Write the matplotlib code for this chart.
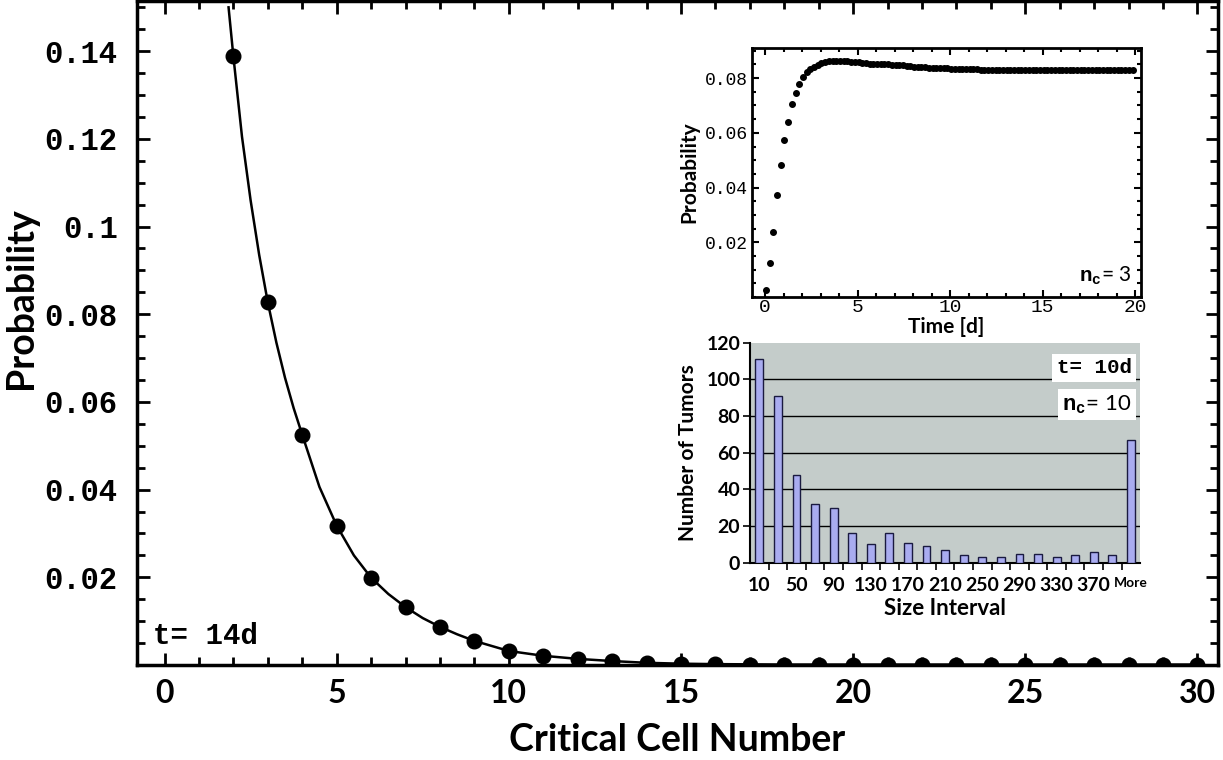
import matplotlib
matplotlib.use('Agg')
import matplotlib.pyplot as plt
import numpy as np
from matplotlib.ticker import MultipleLocator, FixedLocator

MONO = 'Liberation Mono'
SANS = 'Lato'

plt.rcParams.update({
    'font.family': SANS,
    'mathtext.fontset': 'custom',
    'mathtext.tt': 'Liberation Mono:bold',
    'mathtext.rm': 'Lato:bold',
})

# main plot: probability vs critical cell number (t = 14 d)
cell_number = list(range(2, 31))
probability = [0.1388, 0.0827, 0.0525, 0.0318, 0.0199, 0.0132, 0.0087, 0.0055,
               0.0032, 0.0021, 0.0014, 0.0009, 0.0005, 0.0003, 0.0002, 0.0001,
               0.0001, 0.0001, 0.0001, 0.0001, 0.0001, 0.0001, 0.0001, 0.0001,
               0.0001, 0.0001, 0.0001, 0.0001, 0.0001]
# smooth curve drawn through the dots
curve_x = [1.86, 2, 2.25, 2.5, 2.75, 3, 3.25, 3.5, 3.75, 4, 4.5, 5, 5.5, 6,
           6.5, 7, 7.5, 8, 8.5, 9, 10, 11, 12, 13, 14, 15, 16, 18, 20, 25, 30]
curve_y = [0.150, 0.1388, 0.1205, 0.1060, 0.0935, 0.0827, 0.0735, 0.0655,
           0.0586, 0.0525, 0.0406, 0.0318, 0.0250, 0.0199, 0.0162, 0.0132,
           0.0107, 0.0087, 0.0070, 0.0055, 0.0032, 0.0021, 0.0014, 0.0009,
           0.0005, 0.0003, 0.0002, 0.0001, 0.0001, 0.0001, 0.0001]

# inset 1: probability vs time (n_c = 3)
time_days = np.arange(0.05, 20.0, 0.2)
prob_time = [
    0.0027, 0.0123, 0.0239, 0.0372, 0.0484, 0.0575, 0.0641, 0.0704, 0.0745,
    0.0780, 0.0804, 0.0822, 0.0832, 0.0840, 0.0848, 0.0855, 0.0860, 0.0863,
    0.0864, 0.0864, 0.0863, 0.0862, 0.0861, 0.0860, 0.0858, 0.0857, 0.0855,
    0.0854, 0.0852, 0.0851, 0.0850, 0.0850, 0.0851, 0.0850, 0.0849, 0.0848,
    0.0847, 0.0846, 0.0845, 0.0843, 0.0842, 0.0841, 0.0840, 0.0839, 0.0838,
    0.0837, 0.0836, 0.0836, 0.0835, 0.0835, 0.0834, 0.0834, 0.0833, 0.0833,
    0.0833, 0.0832, 0.0832, 0.0832, 0.0831, 0.0831, 0.0831, 0.0830, 0.0830,
    0.0831, 0.0830, 0.0830, 0.0830, 0.0831, 0.0830, 0.0830, 0.0830, 0.0830,
    0.0831, 0.0830, 0.0830, 0.0830, 0.0830, 0.0830, 0.0831, 0.0830, 0.0830,
    0.0830, 0.0830, 0.0830, 0.0830, 0.0831, 0.0830, 0.0830, 0.0830, 0.0830,
    0.0830, 0.0830, 0.0830, 0.0831, 0.0830, 0.0830, 0.0830, 0.0830, 0.0830,
    0.0830,
]

# inset 2: tumour size histogram (t = 10 d, n_c = 10)
size_labels = [str(v) for v in range(10, 400, 20)] + ['More']
tumor_counts = [111, 91, 48, 32, 30, 16, 10, 16, 11, 9, 7, 4, 3, 3, 5, 5, 3,
                4, 6, 4, 67]

fig = plt.figure(figsize=(12.23, 7.6), dpi=100)

# ---- main axes
ax = fig.add_axes([0.112, 0.125, 0.884, 0.874])
ax.plot(curve_x, curve_y, color='black', lw=1.8, zorder=2)
ax.plot(cell_number, probability, 'o', color='black', ms=10.5, zorder=3)
ax.set_xlim(-0.8, 30.6)
ax.set_ylim(0, 0.1515)
ax.xaxis.set_major_locator(MultipleLocator(5))
ax.xaxis.set_minor_locator(MultipleLocator(1))
ax.yaxis.set_major_locator(FixedLocator([0.02, 0.04, 0.06, 0.08, 0.10, 0.12, 0.14]))
ax.yaxis.set_minor_locator(MultipleLocator(0.005))
ax.set_yticklabels(['0.02', '0.04', '0.06', '0.08', '0.1', '0.12', '0.14'],
                   family=MONO, weight='bold', fontsize=22)
for lbl in ax.get_xticklabels():
    lbl.set_fontweight('bold')
    lbl.set_fontsize(23)
ax.tick_params(which='both', direction='in', top=True, right=True, width=2)
ax.tick_params(which='major', length=9)
ax.tick_params(which='minor', length=6)
ax.tick_params(axis='x', pad=10)
ax.tick_params(axis='y', pad=14)
for sp in ax.spines.values():
    sp.set_linewidth(2.5)
ax.set_xlabel('Critical Cell Number', fontsize=27, weight='bold')
ax.xaxis.set_label_coords(0.5, -0.087)
ax.set_ylabel('Probability', fontsize=27, weight='bold')
ax.yaxis.set_label_coords(-0.092, 0.553)
ax.text(0.015, 0.022, 't= 14d', transform=ax.transAxes, family=MONO,
        weight='bold', fontsize=21, ha='left', va='bottom')

# ---- inset 1
ax1 = fig.add_axes([0.6149, 0.609, 0.318, 0.3276])
ax1.plot(time_days, prob_time, 'o', color='black', ms=4)
ax1.set_xlim(-0.7, 20.3)
ax1.set_ylim(0, 0.0909)
ax1.xaxis.set_major_locator(MultipleLocator(5))
ax1.xaxis.set_minor_locator(MultipleLocator(1))
ax1.yaxis.set_major_locator(FixedLocator([0.02, 0.04, 0.06, 0.08]))
ax1.yaxis.set_minor_locator(MultipleLocator(0.005))
ax1.set_yticklabels(['0.02', '0.04', '0.06', '0.08'], family=MONO, fontsize=13)
ax1.set_xticks([0, 5, 10, 15, 20])
ax1.set_xticklabels(['0', '5', '10', '15', '20'], family=MONO, fontsize=14)
ax1.tick_params(which='both', direction='in', top=True, right=True, width=1.5)
ax1.tick_params(which='major', length=5, pad=3)
ax1.tick_params(which='minor', length=3)
ax1.tick_params(axis='x', pad=1)
for sp in ax1.spines.values():
    sp.set_linewidth(2)
ax1.set_xlabel('Time [d]', fontsize=15, weight='bold', labelpad=1)
ax1.set_ylabel('Probability', fontsize=15, weight='bold', labelpad=4)
ax1.text(0.975, 0.04, r'$\mathtt{n_c}$= 3', transform=ax1.transAxes,
         fontsize=15, ha='right', va='bottom')

# ---- inset 2
ax2 = fig.add_axes([0.6133, 0.2596, 0.319, 0.2895])
ax2.set_facecolor('#c4ccca')
pos = np.arange(len(tumor_counts))
ax2.bar(pos, tumor_counts, width=0.42, color='#a9acf0', edgecolor='#1a1a40',
        lw=1, zorder=3)
ax2.set_xlim(-0.5, len(tumor_counts) - 0.5)
ax2.set_ylim(0, 120)
ax2.set_yticks(range(0, 121, 20))
for v in range(20, 120, 20):
    ax2.axhline(v, color='black', lw=1, zorder=1)
ax2.set_xticks(pos)
ax2.set_xticklabels([s if (i % 2 == 0 or s == 'More') else ''
                     for i, s in enumerate(size_labels)])
for lbl in ax2.get_xticklabels():
    lbl.set_fontweight('bold')
    lbl.set_fontsize(10 if lbl.get_text() == 'More' else 14)
for lbl in ax2.get_yticklabels():
    lbl.set_fontweight('bold')
    lbl.set_fontsize(14)
ax2.xaxis.set_minor_locator(FixedLocator(pos[:-1] + 0.5))
ax2.tick_params(axis='x', which='major', length=0, pad=10)
ax2.tick_params(axis='x', which='minor', length=5, width=1.2, direction='out')
ax2.tick_params(axis='y', length=5, width=1.2, direction='out', pad=2)
for side in ('top', 'right'):
    ax2.spines[side].set_visible(False)
for side in ('left', 'bottom'):
    ax2.spines[side].set_linewidth(1.5)
ax2.set_xlabel('Size Interval', fontsize=16, weight='bold', labelpad=3)
ax2.set_ylabel('Number of Tumors', fontsize=15, weight='bold', labelpad=6)
box = dict(facecolor='white', edgecolor='none', pad=3)
ax2.text(0.978, 0.885, 't= 10d', transform=ax2.transAxes, family=MONO,
         weight='bold', fontsize=15, ha='right', va='center', bbox=box, zorder=5)
ax2.text(0.978, 0.72, r'$\mathtt{n_c}$= 10', transform=ax2.transAxes,
         fontsize=16, ha='right', va='center', bbox=box, zorder=5)

fig.savefig('out.png', dpi=100)
